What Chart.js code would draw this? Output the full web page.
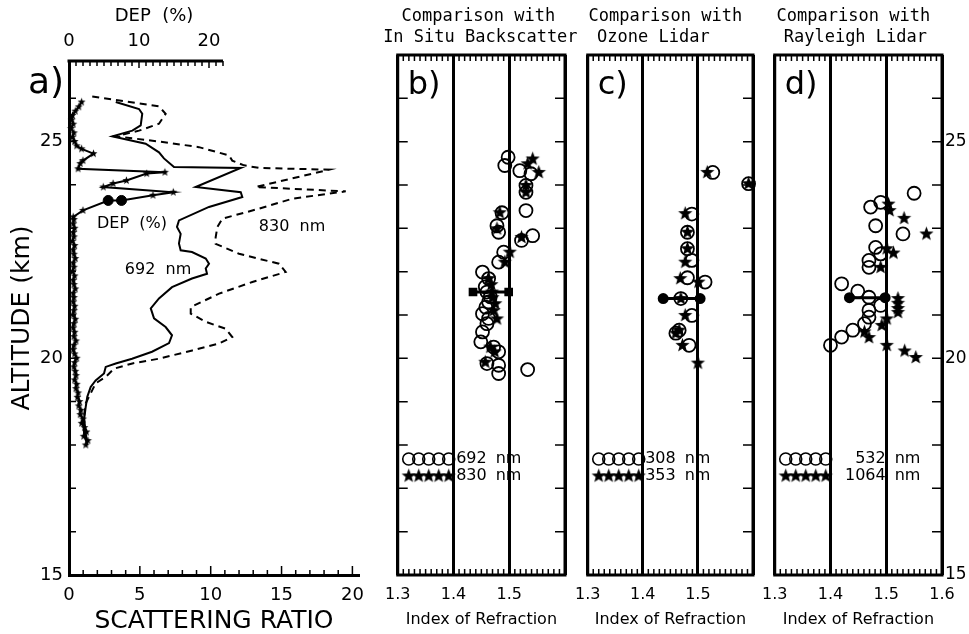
<!DOCTYPE html>
<html><head><meta charset="utf-8">
<script src="https://cdn.jsdelivr.net/npm/chart.js@4.4.1/dist/chart.umd.min.js"></script>
<style>
html,body{margin:0;padding:0;background:#fff;}
#wrap{position:relative;width:969px;height:634px;overflow:hidden;background:#fff}
canvas{position:absolute;top:0}
</style></head><body>
<div id="wrap">
<canvas id="cA" width="380" height="634" style="left:0px"></canvas>
<canvas id="cB" width="205" height="634" style="left:375px"></canvas>
<canvas id="cC" width="205" height="634" style="left:565px"></canvas>
<canvas id="cD" width="217" height="634" style="left:752px"></canvas>
</div>
<script>
// ================= DATA =================
// Panel a: scattering ratio profiles (altitude km, scattering ratio)
const alt692 = [25.91,25.75,25.64,25.37,25.25,25.12,25.07,24.95,24.75,24.61,24.41,24.39,23.95,23.83,23.72,23.49,23.18,23.03,22.87,22.65,22.49,22.45,22.30,22.18,22.07,21.95,21.84,21.64,21.38,21.15,20.92,20.72,20.53,20.35,20.15,19.99,19.88,19.80,19.65,19.49,19.34,19.11,18.88,18.57,18.27,18.00];
const sr692  = [3.30,4.94,5.17,5.06,4.47,3.06,3.74,5.41,6.35,6.70,7.41,12.12,8.94,12.12,12.23,9.88,7.76,7.62,7.88,7.76,7.88,8.68,9.65,9.88,9.65,9.74,8.68,7.27,6.35,5.77,6.00,6.82,7.27,7.06,5.86,4.45,3.30,2.59,2.47,1.88,1.53,1.29,1.18,1.06,1.06,1.29];
const alt830 = [26.04,25.81,25.64,25.41,25.25,25.12,25.00,24.87,24.68,24.56,24.45,24.39,24.35,23.95,23.85,23.68,23.45,23.22,23.03,22.79,22.64,22.41,22.18,21.99,21.76,21.49,21.18,21.03,20.84,20.68,20.49,20.34,20.18,19.99,19.88,19.76,19.57,19.42,19.19,18.96,18.65,18.26,18.03];
const sr830  = [1.64,6.35,6.82,6.35,4.94,3.30,6.35,9.17,11.29,11.52,12.35,13.41,18.35,13.18,19.53,15.76,13.41,10.82,10.47,10.35,10.35,12.00,14.82,15.29,12.94,10.59,8.59,8.59,9.65,11.06,11.52,10.59,8.70,6.35,4.47,3.18,2.59,1.88,1.53,1.18,1.06,1.18,1.29];
// Panel a: depolarization (altitude km, DEP %)
const altDep = [25.91,25.80,25.70,25.60,25.50,25.40,25.30,25.20,25.10,25.00,24.90,24.83,24.72,24.56,24.49,24.37,24.29,24.26,24.10,24.03,23.95,23.83,23.76,23.64,23.64,23.41,23.26,
  23.2,23.1,23.0,22.9,22.8,22.7,22.6,22.5,22.4,22.3,22.2,22.1,22.0,21.9,21.8,21.7,21.6,21.5,21.4,21.3,21.2,21.1,21.0,20.9,20.8,20.7,20.6,20.5,20.4,20.3,20.2,20.1,20.0,19.9,19.8,19.7,19.6,19.5,19.4,19.3,19.2,19.1,19.0,18.9,18.8,18.7,18.6,18.5,18.4,18.3,18.2,18.1,18.0];
const dep = [1.8,1.4,0.9,0.5,0.4,0.6,0.3,0.7,0.5,0.8,1.1,1.8,3.5,2.0,1.6,1.3,13.7,11.1,8.2,6.3,4.9,14.9,12.0,7.5,5.6,2.0,0.6,
  0.7,0.6,0.8,0.6,0.7,0.5,0.8,0.6,0.7,0.9,0.6,0.7,0.5,0.8,0.6,0.7,0.9,0.6,0.7,0.6,0.8,0.7,0.6,0.9,0.7,0.6,0.8,0.7,1.0,0.7,0.6,0.8,1.1,0.8,0.7,0.9,1.0,0.8,1.1,1.0,1.3,1.2,1.5,1.4,1.7,1.6,2.0,1.8,2.2,2.5,2.1,2.7,2.4];
const altDepDots = [23.64,23.64];
const depDots = [7.5,5.6];

// Panel b: in situ backscatter comparison (altitude km, index of refraction)
const altB692 = [24.64,24.45,24.33,24.26,23.99,23.83,23.41,23.36,23.06,22.91,22.83,22.72,22.45,22.22,21.99,21.84,21.65,21.53,21.42,21.30,21.18,21.03,20.92,20.80,20.61,20.38,20.26,20.15,19.88,19.84,19.65,19.74];
const nB692   = [1.498,1.492,1.519,1.539,1.530,1.530,1.530,1.487,1.478,1.481,1.542,1.522,1.490,1.481,1.452,1.463,1.457,1.460,1.466,1.463,1.458,1.452,1.463,1.460,1.452,1.449,1.472,1.481,1.460,1.481,1.481,1.533];
const altB830 = [24.60,24.49,24.29,23.99,23.83,23.36,22.99,22.79,22.45,22.22,21.84,21.70,21.53,21.40,21.26,21.10,20.91,20.26,20.15,19.91];
const nB830   = [1.542,1.533,1.553,1.530,1.530,1.483,1.478,1.522,1.501,1.492,1.463,1.468,1.469,1.470,1.475,1.472,1.478,1.466,1.474,1.457];
// Panel c: ozone lidar comparison
const altC308 = [24.29,24.03,23.33,22.91,22.53,22.26,21.86,21.76,21.38,20.99,20.65,20.58,20.30];
const nC308   = [1.527,1.592,1.489,1.481,1.481,1.489,1.481,1.513,1.469,1.489,1.466,1.460,1.484];
const altC353 = [24.29,24.03,23.34,22.91,22.53,22.22,21.84,21.76,21.38,20.99,20.65,20.58,20.30,19.89];
const nC353   = [1.517,1.592,1.477,1.481,1.481,1.477,1.468,1.501,1.469,1.477,1.466,1.460,1.472,1.500];
// Panel d: Rayleigh lidar comparison
const altD532 = [23.81,23.60,23.49,23.06,22.87,22.56,22.41,22.26,22.10,21.72,21.55,21.41,21.22,21.11,20.95,20.80,20.65,20.49,20.30];
const nD532   = [1.550,1.490,1.472,1.481,1.530,1.481,1.490,1.469,1.469,1.420,1.449,1.469,1.490,1.469,1.469,1.461,1.440,1.420,1.400];
const altD1064 = [23.56,23.41,23.23,22.87,22.53,22.43,22.10,21.38,21.27,21.15,21.06,20.91,20.76,20.61,20.48,20.30,20.17,20.02];
const nD1064   = [1.504,1.506,1.532,1.572,1.501,1.513,1.490,1.521,1.521,1.521,1.521,1.501,1.492,1.461,1.469,1.501,1.533,1.553];
// Error bars (b, c, d)
const errAlt = [21.53,21.38,21.40];
const errLo  = [1.435,1.437,1.434];
const errHi  = [1.499,1.504,1.498];

// ================= LAYOUT / STYLE =================
const SANS = "'DejaVu Sans', sans-serif";
const MONO = "'DejaVu Sans Mono', monospace";
Chart.defaults.font.family = SANS;
Chart.defaults.color = '#000';
const H = 634, BOTTOM = 575;
const zip = (xs, ys) => xs.map((x, i) => ({x: x, y: ys[i]}));

function starImage(r){
  const s = Math.ceil(2*r)+2, c = document.createElement('canvas');
  c.width = c.height = s; const g = c.getContext('2d');
  g.beginPath();
  for (let i=0;i<10;i++){ const a=-Math.PI/2+i*Math.PI/5, rr=(i%2)?r*0.42:r; g.lineTo(s/2+rr*Math.cos(a), s/2+rr*Math.sin(a)); }
  g.closePath(); g.fillStyle='#000'; g.fill(); return c;
}
const STAR_BIG = starImage(7.5), STAR_SMALL = starImage(4.2);

function txt(ctx, s, x, y, font, align){
  ctx.font = font; ctx.textAlign = align || 'center'; ctx.textBaseline = 'middle'; ctx.fillText(s, x, y);
}

// ---------- Panel a ----------
const A_LEFT = 69, A_RIGHT = 359, A_TOP = 61, A_W = 380;
const PX_SR = 14.17, PX_DEP = 7, PX_KM = 43.35;
const srMax = (A_RIGHT - A_LEFT) / PX_SR;
const depMax = (A_RIGHT - A_LEFT) / PX_DEP;
const altMaxA = 15 + (BOTTOM - A_TOP) / PX_KM;

const aDeco = {
  id: 'aDeco',
  afterDraw(chart){
    const {ctx, chartArea: a, scales} = chart;
    const xs = scales.x, xd = scales.xDep, ys = scales.y;
    ctx.save(); ctx.strokeStyle = '#000'; ctx.fillStyle = '#000';
    // DEP axis line (0..22)
    ctx.lineWidth = 3; ctx.beginPath();
    ctx.moveTo(xd.getPixelForValue(0)-1.5, a.top); ctx.lineTo(xd.getPixelForValue(22), a.top); ctx.stroke();
    ctx.lineWidth = 1.5; ctx.beginPath();
    for (let v=0; v<=22; v++){ const p=xd.getPixelForValue(v), l=(v%10===0)?7:5; ctx.moveTo(p,a.top); ctx.lineTo(p,a.top+l); }
    for (let v=1; v<=20; v++){ const p=xs.getPixelForValue(v), l=(v%5===0)?9:5; ctx.moveTo(p,a.bottom); ctx.lineTo(p,a.bottom-l); }
    for (let v=16; v<=26; v++){ const p=ys.getPixelForValue(v); ctx.moveTo(a.left,p); ctx.lineTo(a.left+7,p); }
    ctx.stroke();
    // DEP axis title (placed over the DEP part of the top axis)
    txt(ctx, 'DEP  (%)', (xd.getPixelForValue(0)+xd.getPixelForValue(22))/2 + 8, 16, '18px '+SANS);
    txt(ctx, 'a)', 28, 84, '36px '+SANS, 'left');
    txt(ctx, 'DEP  (%)', 132, 224, '16px '+SANS);
    txt(ctx, '692  nm', 158, 270, '16px '+SANS);
    txt(ctx, '830  nm', 292, 227, '16px '+SANS);
    ctx.restore();
  }
};

new Chart(document.getElementById('cA'), {
  type: 'scatter',
  data: { datasets: [
    {label:'692 nm', data: zip(sr692, alt692), showLine:true, borderColor:'#000', borderWidth:2, pointRadius:0, xAxisID:'x', yAxisID:'y', clip:false},
    {label:'830 nm', data: zip(sr830, alt830), showLine:true, borderColor:'#000', borderWidth:2, borderDash:[7,5], pointRadius:0, xAxisID:'x', yAxisID:'y', clip:false},
    {label:'DEP (%)', data: zip(dep, altDep), showLine:true, borderColor:'#000', borderWidth:2, pointStyle:STAR_SMALL, pointRadius:4, xAxisID:'xDep', yAxisID:'y', clip:false},
    {label:'DEP marker', data: zip(depDots, altDepDots), pointStyle:'circle', pointRadius:5, backgroundColor:'#000', borderColor:'#000', xAxisID:'xDep', yAxisID:'y', clip:false}
  ]},
  options: {
    responsive:false, animation:false, devicePixelRatio:1, events:[],
    layout:{padding:{left:0, right:A_W-A_RIGHT, top:0, bottom:0}},
    plugins:{legend:{display:false}, tooltip:{enabled:false}},
    scales:{
      x:{type:'linear', position:'bottom', min:0, max:srMax, afterFit(s){ s.height = H-BOTTOM; },
         ticks:{stepSize:5, includeBounds:false, padding:10, font:{size:18}, color:'#000', maxRotation:0},
         grid:{display:false, drawTicks:false}, border:{display:true, width:3, color:'#000'},
         title:{display:true, text:'SCATTERING RATIO', font:{size:25, lineHeight:1}, padding:{top:0, bottom:0}, color:'#000'}},
      xDep:{type:'linear', position:'top', min:0, max:depMax, afterFit(s){ s.height = A_TOP; },
         ticks:{stepSize:10, includeBounds:false, padding:9, font:{size:18}, color:'#000', maxRotation:0, callback:v => (v<=20 ? v : '')},
         grid:{display:false, drawTicks:false}, border:{display:false},
         title:{display:false}},
      y:{type:'linear', min:15, max:altMaxA, afterFit(s){ s.width = A_LEFT; },
         ticks:{stepSize:5, includeBounds:false, padding:6, font:{size:18}, color:'#000'},
         grid:{display:false, drawTicks:false}, border:{display:true, width:3, color:'#000'},
         title:{display:true, text:'ALTITUDE (km)', font:{size:25, lineHeight:1}, padding:{top:10, bottom:0}, color:'#000'}}
    }
  },
  plugins:[aDeco]
});

// ---------- Panels b, c, d ----------
const P_TOP = 55;
const panelDeco = {
  id: 'panelDeco',
  afterDraw(chart, args, o){
    const {ctx, chartArea: a, scales} = chart;
    const xs = scales.x, ys = scales.y;
    ctx.save(); ctx.strokeStyle = '#000'; ctx.fillStyle = '#000';
    ctx.lineWidth = 3; ctx.strokeRect(a.left, a.top, a.right-a.left, a.bottom-a.top);
    ctx.lineWidth = 1.5; ctx.beginPath();
    for (let i=0; i<=30; i++){
      const p = xs.getPixelForValue(xs.min + i*(xs.max-xs.min)/30);
      ctx.moveTo(p, a.top); ctx.lineTo(p, a.top+6);
      ctx.moveTo(p, a.bottom); ctx.lineTo(p, a.bottom-6);
    }
    for (let v=16; v<=26; v++){
      const p = ys.getPixelForValue(v);
      ctx.moveTo(a.right, p); ctx.lineTo(a.right-10, p);
      if (o.leftTicks){ ctx.moveTo(a.left, p); ctx.lineTo(a.left+10, p); }
    }
    ctx.stroke();
    const cx = (a.left + a.right)/2;
    txt(ctx, o.title[0], cx + o.tdx[0], 17, '17px '+MONO);
    txt(ctx, o.title[1], cx + o.tdx[1], 38, '17px '+MONO);
    txt(ctx, o.letter, a.left + 10, 86, '32px '+SANS, 'left');
    // legend
    const r1 = a.bottom - 116, r2 = a.bottom - 99;
    ctx.lineWidth = 1.6;
    for (let i=0; i<5; i++){
      const px = a.left + 11 + 10*i;
      ctx.beginPath(); ctx.arc(px, r1, 6, 0, 2*Math.PI); ctx.stroke();
      ctx.drawImage(STAR_BIG, px - STAR_BIG.width/2, r2 - STAR_BIG.height/2);
    }
    txt(ctx, o.leg[0], a.left + o.numRight, r1, '16px '+SANS, 'right');
    txt(ctx, o.leg[1], a.left + o.numRight, r2, '16px '+SANS, 'right');
    txt(ctx, 'nm', a.left + o.numRight + 9, r1, '16px '+SANS, 'left');
    txt(ctx, 'nm', a.left + o.numRight + 9, r2, '16px '+SANS, 'left');
    ctx.restore();
  }
};

function makePanel(id, padL, padR, circ, star, ei, opt){
  const endStyle = opt.endStyle || 'circle';
  new Chart(document.getElementById(id), {
    type:'scatter',
    data:{datasets:[
      {label:opt.leg[0]+' nm', data:circ, pointStyle:'circle', pointRadius:6.5, borderWidth:1.8, borderColor:'#000', backgroundColor:'rgba(0,0,0,0)', clip:false},
      {label:opt.leg[1]+' nm', data:star, pointStyle:STAR_BIG, pointRadius:7, clip:false},
      {label:'error', data:[{x:errLo[ei], y:errAlt[ei]},{x:errHi[ei], y:errAlt[ei]}], showLine:true, borderColor:'#000',
       pointStyle:endStyle, pointRadius:4, backgroundColor:'#000', borderWidth:3, clip:false}
    ]},
    options:{
      responsive:false, animation:false, devicePixelRatio:1, events:[],
      layout:{padding:{left:padL, right:padR, top:P_TOP, bottom:0}},
      plugins:{legend:{display:false}, tooltip:{enabled:false}, panelDeco:opt},
      scales:{
        x:{type:'linear', position:'bottom', min:1.3, max:1.6, afterFit(s){ s.height = H-BOTTOM; },
           ticks:{stepSize:0.1, padding:10, font:{size:16}, color:'#000', maxRotation:0,
                  callback:v => (Math.abs(v-1.6)<1e-6 && !opt.show16) ? '' : v.toFixed(1)},
           grid:{display:true, drawOnChartArea:true, drawTicks:false, color:'#000', lineWidth:3},
           border:{display:false},
           title:{display:true, text:'Index of Refraction', font:{size:16, lineHeight:1}, padding:{top:0, bottom:6}, color:'#000'}},
        y:{type:'linear', position:'right', min:15, max:27, display:!!opt.rightLabels,
           afterFit(s){ s.width = opt.rightLabels ? 27 : 0; },
           ticks:{stepSize:5, includeBounds:false, padding:3, font:{size:17}, color:'#000'},
           grid:{display:false, drawTicks:false}, border:{display:false}}
      }
    },
    plugins:[panelDeco]
  });
}

makePanel('cB', 18, 15, zip(nB692, altB692), zip(nB830, altB830), 0,
  {title:['Comparison with','In Situ Backscatter'], tdx:[-3,-1], letter:'b)', leg:['692','830'], numRight:89, leftTicks:true, endStyle:'rect'});
makePanel('cC', 17, 17, zip(nC308, altC308), zip(nC353, altC353), 1,
  {title:['Comparison with','Ozone Lidar'], tdx:[-5,-17], letter:'c)', leg:['308','353'], numRight:88});
makePanel('cD', 17, 0, zip(nD532, altD532), zip(nD1064, altD1064), 2,
  {title:['Comparison with','Rayleigh Lidar'], tdx:[-5,-3], letter:'d)', leg:['532','1064'], numRight:111, rightLabels:true, show16:true});
</script></body></html>
